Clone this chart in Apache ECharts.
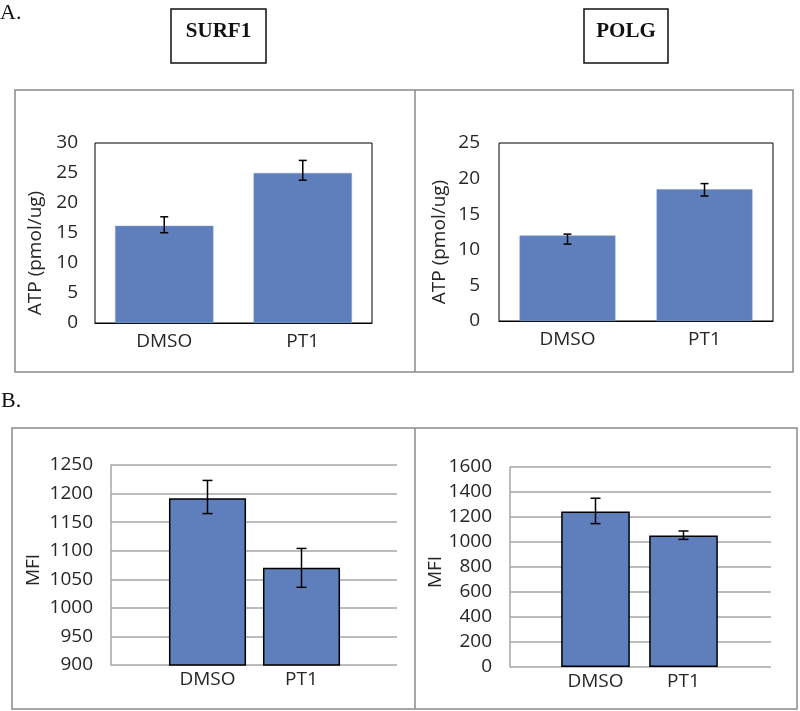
<!DOCTYPE html>
<html>
<head>
<meta charset="utf-8">
<script src="https://cdn.jsdelivr.net/npm/echarts@6/dist/echarts.min.js"></script>
<style>html,body{margin:0;padding:0;background:#fff;}#c{width:800px;height:711px;}</style>
</head>
<body>
<div id="c"></div>
<script>
// ---- data ----
var categories = ['DMSO', 'PT1'];
var surf1Atp = [16.2, 25.0];
var surf1AtpLow = [15.05, 23.8];
var surf1AtpHigh = [17.7, 27.1];
var polgAtp = [12.0, 18.5];
var polgAtpLow = [10.8, 17.55];
var polgAtpHigh = [12.2, 19.3];
var surf1Mfi = [1192, 1070];
var surf1MfiLow = [1165, 1036];
var surf1MfiHigh = [1223, 1104];
var polgMfi = [1245, 1053];
var polgMfiLow = [1147, 1021];
var polgMfiHigh = [1350, 1088];
var panelTitles = ['SURF1', 'POLG'];
var sectionLabels = ['A.', 'B.'];
var atpAxisName = 'ATP (pmol/ug)';
var mfiAxisName = 'MFI';

var FONT = 'Open Sans';
var FS = 19;
var BAR = '#5e7fbb';
var TXT = '#262626';
var GRID = '#a6a6a6';

function errData(lo, hi) {
  return lo.map(function (v, i) { return [i, v, hi[i]]; });
}
function errSeries(xi, yi, lo, hi, cap) {
  return {
    type: 'custom', xAxisIndex: xi, yAxisIndex: yi, z: 5, silent: true,
    data: errData(lo, hi),
    renderItem: function (params, api) {
      var a = api.coord([api.value(0), api.value(1)]);
      var b = api.coord([api.value(0), api.value(2)]);
      var style = { stroke: '#000', lineWidth: 1.5 };
      return { type: 'group', children: [
        { type: 'line', shape: { x1: a[0], y1: a[1], x2: b[0], y2: b[1] }, style: style },
        { type: 'line', shape: { x1: a[0] - cap, y1: a[1], x2: a[0] + cap, y2: a[1] }, style: style },
        { type: 'line', shape: { x1: b[0] - cap, y1: b[1], x2: b[0] + cap, y2: b[1] }, style: style }
      ]};
    }
  };
}
function lbl(margin) {
  return { color: TXT, fontFamily: FONT, fontSize: FS, margin: margin, formatter: function (v) { return String(v); } };
}
function nameStyle(pad) {
  return { color: TXT, fontFamily: FONT, fontSize: FS, padding: [0, pad, 0, 0] };
}

var option = {
  backgroundColor: '#fff',
  animation: false,
  grid: [
    { left: 95, top: 143, width: 277, height: 180, show: true, borderColor: '#000', borderWidth: 1 },
    { left: 499, top: 143, width: 274, height: 178, show: true, borderColor: '#000', borderWidth: 1 },
    { left: 111, top: 465, width: 286, height: 200 },
    { left: 160.5, top: 465, width: 188, height: 200 },
    { left: 510, top: 467, width: 261, height: 200 },
    { left: 551.5, top: 467, width: 176, height: 200 }
  ],
  xAxis: [
    { type: 'category', gridIndex: 0, data: categories, axisLine: { lineStyle: { color: '#000', width: 1 } }, axisTick: { show: false }, axisLabel: lbl(9) },
    { type: 'category', gridIndex: 1, data: categories, axisLine: { lineStyle: { color: '#000', width: 1 } }, axisTick: { show: false }, axisLabel: lbl(9) },
    { type: 'category', gridIndex: 2, data: categories, show: false },
    { type: 'category', gridIndex: 3, data: categories, axisLine: { show: false }, axisTick: { show: false }, axisLabel: lbl(5) },
    { type: 'category', gridIndex: 4, data: categories, show: false },
    { type: 'category', gridIndex: 5, data: categories, axisLine: { show: false }, axisTick: { show: false }, axisLabel: lbl(5) }
  ],
  yAxis: [
    { type: 'value', gridIndex: 0, min: 0, max: 30, interval: 5, axisLine: { show: false }, axisTick: { show: false }, splitLine: { show: false },
      axisLabel: lbl(17),
      name: atpAxisName, nameLocation: 'middle', nameGap: 50, nameRotate: 90, nameTextStyle: nameStyle(40) },
    { type: 'value', gridIndex: 1, min: 0, max: 25, interval: 5, axisLine: { show: false }, axisTick: { show: false }, splitLine: { show: false },
      axisLabel: lbl(19),
      name: atpAxisName, nameLocation: 'middle', nameGap: 50, nameRotate: 90, nameTextStyle: nameStyle(20) },
    { type: 'value', gridIndex: 2, min: 900, max: 1250, interval: 50, axisLine: { show: true, lineStyle: { color: GRID, width: 1.5 } }, axisTick: { show: false },
      splitLine: { lineStyle: { color: GRID, width: 1.5 } },
      axisLabel: lbl(18),
      name: mfiAxisName, nameLocation: 'middle', nameGap: 68, nameRotate: 90, nameTextStyle: nameStyle(10) },
    { type: 'value', gridIndex: 3, min: 900, max: 1250, interval: 50, show: false, splitLine: { show: false } },
    { type: 'value', gridIndex: 4, min: 0, max: 1600, interval: 200, axisLine: { show: true, lineStyle: { color: GRID, width: 1.5 } }, axisTick: { show: false },
      splitLine: { lineStyle: { color: GRID, width: 1.5 } },
      axisLabel: lbl(18),
      name: mfiAxisName, nameLocation: 'middle', nameGap: 62, nameRotate: 90, nameTextStyle: nameStyle(10) },
    { type: 'value', gridIndex: 5, min: 0, max: 1600, interval: 200, show: false, splitLine: { show: false } }
  ],
  series: [
    { type: 'bar', xAxisIndex: 0, yAxisIndex: 0, data: surf1Atp, barWidth: '71%', itemStyle: { color: BAR, borderColor: '#7f9ccc', borderWidth: 0.5 } },
    errSeries(0, 0, surf1AtpLow, surf1AtpHigh, 4),
    { type: 'bar', xAxisIndex: 1, yAxisIndex: 1, data: polgAtp, barWidth: '70%', itemStyle: { color: BAR, borderColor: '#7f9ccc', borderWidth: 0.5 } },
    errSeries(1, 1, polgAtpLow, polgAtpHigh, 4),
    { type: 'bar', xAxisIndex: 3, yAxisIndex: 3, data: surf1Mfi, barWidth: '82%', itemStyle: { color: BAR, borderColor: '#000', borderWidth: 1.5 } },
    errSeries(3, 3, surf1MfiLow, surf1MfiHigh, 5),
    { type: 'bar', xAxisIndex: 5, yAxisIndex: 5, data: polgMfi, barWidth: '78%', itemStyle: { color: BAR, borderColor: '#000', borderWidth: 1.5 } },
    errSeries(5, 5, polgMfiLow, polgMfiHigh, 5)
  ],
  graphic: [
    { type: 'text', left: 0, top: 2, style: { text: sectionLabels[0], font: '22px "Liberation Serif"', fill: '#111' } },
    { type: 'text', left: 1, top: 390, style: { text: sectionLabels[1], font: '22px "Liberation Serif"', fill: '#111' } },
    { type: 'rect', shape: { x: 171, y: 9, width: 95, height: 54 }, style: { fill: 'none', stroke: '#111', lineWidth: 1.5 } },
    { type: 'rect', shape: { x: 584, y: 9, width: 84, height: 54 }, style: { fill: 'none', stroke: '#111', lineWidth: 1.5 } },
    { type: 'text', x: 218.5, y: 32, style: { text: panelTitles[0], font: 'bold 21px "Liberation Serif"', fill: '#111', align: 'center', verticalAlign: 'middle' } },
    { type: 'text', x: 626, y: 32, style: { text: panelTitles[1], font: 'bold 21px "Liberation Serif"', fill: '#111', align: 'center', verticalAlign: 'middle' } },
    { type: 'rect', shape: { x: 15, y: 90, width: 778, height: 282 }, style: { fill: 'none', stroke: '#8a8a8a', lineWidth: 1.5 } },
    { type: 'line', shape: { x1: 415, y1: 90, x2: 415, y2: 372 }, style: { stroke: '#8a8a8a', lineWidth: 1.5 } },
    { type: 'rect', shape: { x: 12, y: 428, width: 785, height: 281 }, style: { fill: 'none', stroke: '#8a8a8a', lineWidth: 1.5 } },
    { type: 'line', shape: { x1: 415, y1: 428, x2: 415, y2: 709 }, style: { stroke: '#8a8a8a', lineWidth: 1.5 } }
  ]
};
var chart = echarts.init(document.getElementById('c'), null, { renderer: 'canvas' });
chart.setOption(option);
</script>
</body>
</html>
